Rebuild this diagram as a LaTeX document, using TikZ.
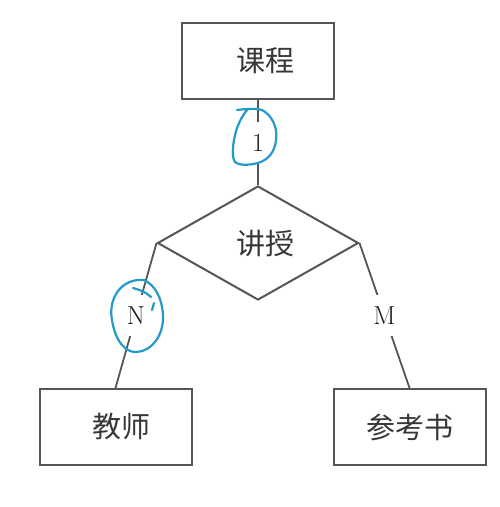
\documentclass[tikz,border=0pt]{standalone}
\usepackage{fontspec}
\newfontfamily\cjk{Noto Sans CJK SC}
\usetikzlibrary{shapes.geometric}
\definecolor{linegray}{RGB}{85,85,85}
\definecolor{textgray}{RGB}{55,55,55}
\definecolor{cardtext}{RGB}{25,25,25}
\definecolor{annotblue}{RGB}{35,155,200}
\begin{document}
\begin{tikzpicture}[x=1pt,y=-1pt,
  ent/.style={draw=linegray, line width=2pt, minimum width=152pt, minimum height=76pt, inner sep=0pt, font=\cjk\fontsize{29}{34}\selectfont, text=textgray},
  rel/.style={diamond, draw=linegray, line width=2pt, minimum width=201pt, minimum height=114pt, inner sep=0pt, font=\cjk\fontsize{29}{34}\selectfont, text=textgray},
  conn/.style={draw=linegray, line width=1.8pt},
  card/.style={fill=white, inner xsep=4pt, inner ysep=12pt, font=\fontsize{26}{30}\selectfont, text=cardtext},
  annot/.style={draw=annotblue, line width=2.2pt, line cap=round, line join=round}
]
\useasboundingbox (0,0) rectangle (500,507);
\fill[white] (0,0) rectangle (500,507);

\node[ent] (kc) at (258,61) {\hspace{14pt}课程};
\node[rel] (jy) at (258,243) {\hspace{14pt}讲授};
\node[ent] (js) at (115.5,427) {\hspace{12pt}教师};
\node[ent] (ck) at (409.5,427) {参考书};

\draw[conn] (kc.south) -- node[card] (c1) {1} (jy.north);
\draw[conn] (jy.west) -- node[card] (cn) {N} (js.north);
\draw[conn] (jy.east) -- node[card] (cm) {M} (ck.north);

% hand-drawn annotations
\draw[annot] (237,110) .. controls (245,109) and (255,108) .. (262,110)
  .. controls (272,115) and (278,128) .. (276,140)
  .. controls (275,152) and (268,160) .. (258,163)
  .. controls (250,165) and (240,166) .. (235,162)
  .. controls (231,157) and (233,140) .. (237,128)
  .. controls (240,120) and (244,113) .. (248,109);

\draw[annot] (144,280) .. controls (120,278) and (108,300) .. (112,320)
  .. controls (115,340) and (125,353) .. (137,352)
  .. controls (152,351) and (164,335) .. (163,315)
  .. controls (162,298) and (155,285) .. (144,280);
\draw[annot] (133,288) .. controls (140,290) and (146,292) .. (151,297);
\draw[annot] (152,310) -- (154,303);
\end{tikzpicture}
\end{document}
